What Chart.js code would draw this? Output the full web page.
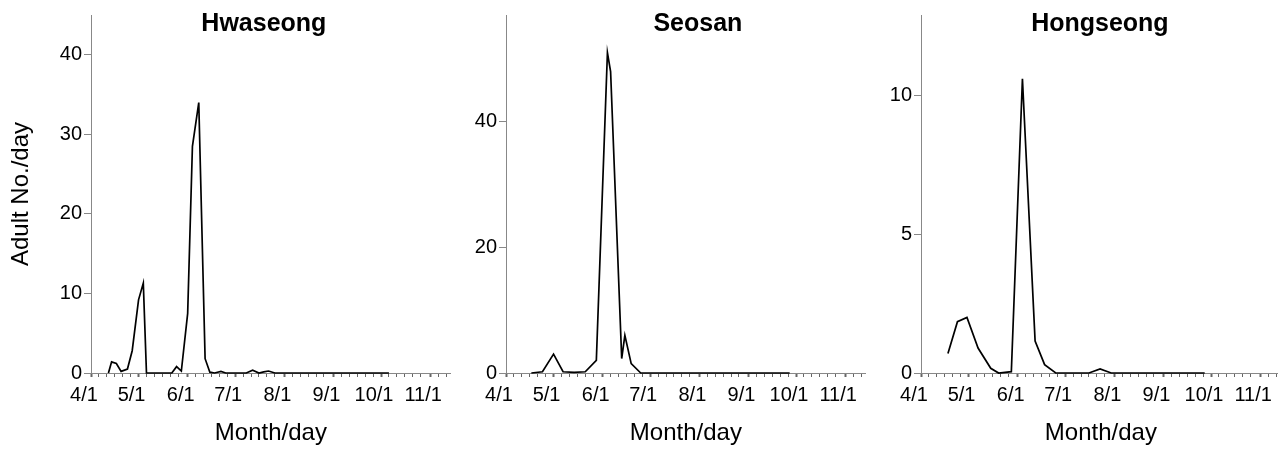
<!DOCTYPE html>
<html>
<head>
<meta charset="utf-8">
<script src="https://cdn.jsdelivr.net/npm/chart.js@4.4.1/dist/chart.umd.min.js"></script>
<style>
  html, body { margin: 0; padding: 0; background: #fff; overflow: hidden; }
  #wrap { position: relative; width: 1278px; height: 456px; }
  .box { position: absolute; top: 0; height: 456px; }
</style>
</head>
<body>
<div id="wrap">
  <div class="box" style="left:0px;width:452px"><canvas id="c1"></canvas></div>
  <div class="box" style="left:446px;width:421px"><canvas id="c2"></canvas></div>
  <div class="box" style="left:861px;width:421px"><canvas id="c3"></canvas></div>
</div>
<script>
// x values are days after 4/1
var monthStarts = [0, 30, 61, 91, 122, 153, 183, 214];
var monthLabels = ['4/1', '5/1', '6/1', '7/1', '8/1', '9/1', '10/1', '11/1'];

var hwDays = [11, 13, 16, 19, 23, 26, 30, 33, 35, 38, 41, 44, 47, 51, 54, 57, 61, 64, 68, 72,
	75, 78, 82, 85, 88, 91, 95, 98, 102, 106, 109, 112, 116, 119, 122, 126, 129, 132, 136, 139,
	142, 146, 149, 152, 156, 159, 162, 166, 169, 172, 176, 179, 182, 185, 188];
var hwCounts = [0, 1.4, 1.2, 0.2, 0.5, 2.8, 9.2, 11.3, 0, 0, 0, 0, 0, 0, 0.8, 0.25, 7.5, 28.5, 34, 1.8,
	0.1, 0, 0.2, 0, 0, 0, 0, 0, 0.35, 0, 0.15, 0.25, 0, 0, 0, 0, 0, 0, 0, 0,
	0, 0, 0, 0, 0, 0, 0, 0, 0, 0, 0, 0, 0, 0, 0];

var ssDays = [16, 23, 30, 36, 43, 50, 57, 64, 66, 73, 75, 79, 85, 92, 99, 106, 113, 120, 127, 134,
	141, 148, 155, 162, 169, 176, 179];
var ssCounts = [0, 0.2, 3.0, 0.2, 0.1, 0.2, 2.0, 51, 48, 2.3, 6.0, 1.5, 0, 0, 0, 0, 0, 0, 0, 0,
	0, 0, 0, 0, 0, 0, 0];

var hsDays = [17, 23, 29, 36, 44, 49, 57, 64, 72, 78, 85, 92, 99, 106, 113, 120, 127, 134, 141, 148,
	155, 162, 169, 176, 179];
var hsCounts = [0.7, 1.85, 2.0, 0.9, 0.17, 0, 0.05, 10.6, 1.15, 0.3, 0, 0, 0, 0, 0.15, 0, 0, 0, 0, 0,
	0, 0, 0, 0, 0];

var hwYTicks = [0, 10, 20, 30, 40];
var ssYTicks = [0, 20, 40];
var hsYTicks = [0, 5, 10];

var FONT = "'Liberation Sans', Arial, sans-serif";

var panelTitle = {
	id: 'panelTitle',
	afterDraw: function(chart, args, opts) {
		var ctx = chart.ctx;
		var area = chart.chartArea;
		ctx.save();
		ctx.font = 'bold 25px ' + FONT;
		ctx.fillStyle = '#000';
		ctx.textAlign = 'center';
		ctx.textBaseline = 'alphabetic';
		ctx.fillText(opts.text, (area.left + area.right) / 2 + opts.shift, 31);
		ctx.restore();
	}
};

function makeChart(id, title, shift, days, counts, yMax, yTicks, yTitle, yWidth) {
	var points = days.map(function(d, i) { return { x: d, y: counts[i] }; });
	var minorTicks = [];
	monthStarts.forEach(function(m) {
		for (var k = 0; k < 30; k += 5) {
			if (m + k <= 226) minorTicks.push(m + k);
		}
	});

	return new Chart(document.getElementById(id), {
		type: 'line',
		data: {
			datasets: [{
				data: points,
				borderColor: '#000',
				borderWidth: 1.7,
				pointRadius: 0,
				tension: 0,
				fill: false,
				clip: false
			}]
		},
		options: {
			responsive: true,
			maintainAspectRatio: false,
			animation: false,
			layout: { padding: { top: 15, right: 0, left: 0, bottom: 0 } },
			plugins: {
				legend: { display: false },
				tooltip: { enabled: false },
				panelTitle: { text: title, shift: shift }
			},
			scales: {
				x: {
					type: 'linear',
					min: 0,
					max: 227,
					afterBuildTicks: function(scale) {
						scale.ticks = minorTicks.map(function(v) { return { value: v }; });
					},
					afterFit: function(scale) { scale.height = 83; },
					ticks: {
						autoSkip: false,
						maxRotation: 0,
						padding: 6,
						labelOffset: -7,
						color: '#000',
						font: { family: FONT, size: 20 },
						callback: function(v) {
							var i = monthStarts.indexOf(v);
							return i >= 0 ? monthLabels[i] : '';
						}
					},
					grid: {
						drawOnChartArea: false,
						drawTicks: true,
						tickLength: 4,
						tickColor: '#666',
						tickWidth: function(c) {
							return monthStarts.indexOf(c.tick.value) >= 0 ? 2 : 1;
						}
					},
					border: { color: '#888', width: 1 },
					title: {
						display: true,
						text: 'Month/day',
						color: '#000',
						font: { family: FONT, size: 24 },
						padding: { top: 0, bottom: 8 }
					}
				},
				y: {
					min: 0,
					max: yMax,
					afterBuildTicks: function(scale) {
						scale.ticks = yTicks.map(function(v) { return { value: v }; });
					},
					afterFit: function(scale) { scale.width = yWidth; },
					ticks: {
						padding: 2,
						color: '#000',
						font: { family: FONT, size: 20 }
					},
					grid: {
						drawOnChartArea: false,
						drawTicks: true,
						tickLength: 7,
						tickColor: '#888'
					},
					border: { color: '#888', width: 1 },
					title: {
						display: !!yTitle,
						text: yTitle || '',
						color: '#000',
						font: { family: FONT, size: 24 },
						padding: { top: 7, bottom: 0 }
					}
				}
			}
		},
		plugins: [panelTitle]
	});
}

makeChart('c1', 'Hwaseong', -7, hwDays, hwCounts, 45, hwYTicks, 'Adult No./day', 91);
makeChart('c2', 'Seosan', 12, ssDays, ssCounts, 57, ssYTicks, '', 60);
makeChart('c3', 'Hongseong', -1, hsDays, hsCounts, 12.9, hsYTicks, '', 60);
</script>
</body>
</html>
